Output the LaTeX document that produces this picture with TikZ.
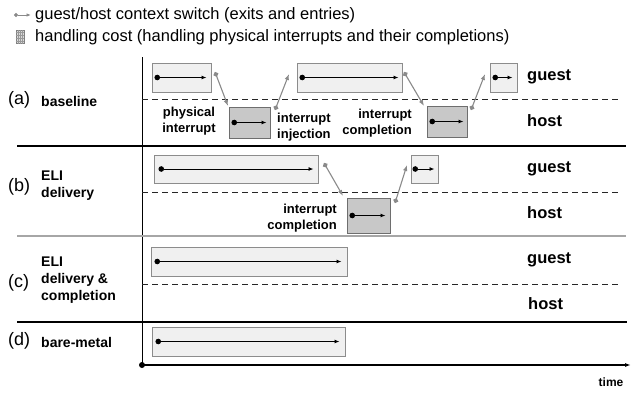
\documentclass[tikz,border=0pt]{standalone}
\usepackage{fontspec}
\setmainfont{Liberation Sans}
\usetikzlibrary{arrows.meta}
\newcommand\legfont{\fontsize{16.5}{19}\selectfont}
\newcommand\lblfont{\fontsize{13}{16}\selectfont\bfseries}
\newcommand\rowfont{\fontsize{14}{17}\selectfont\bfseries}
\newcommand\ghfont{\fontsize{16.5}{19}\selectfont\bfseries}
\newcommand\tagfont{\fontsize{18}{20}\selectfont}
\definecolor{gfill}{HTML}{F0F0F0}
\definecolor{gline}{HTML}{8C8C8C}
\definecolor{hfill}{HTML}{C8C8C8}
\definecolor{hline}{HTML}{6E6E6E}
\definecolor{swcol}{HTML}{8A8A8A}
\tikzset{
  gbox/.style={draw=gline, fill=gfill, line width=1pt, inner sep=0pt},
  hbox/.style={draw=hline, fill=hfill, line width=1pt, inner sep=0pt},
  inarr/.style={black, line width=0.9pt, {Circle[length=5.5pt]}-{Latex[length=5pt,width=4pt]}},
  swarr/.style={swcol, line width=1.1pt, {Circle[length=5pt]}-{Latex[length=6pt,width=4.5pt]}},
  sepline/.style={black, line width=1.1pt},
  gsepline/.style={gray!70, line width=1.6pt},
  dashsep/.style={black!85, line width=0.9pt, dash pattern=on 6pt off 4pt},
  lbl/.style={font=\lblfont, inner sep=0pt},
  ghlbl/.style={font=\ghfont, inner sep=0pt, anchor=west},
  rowlbl/.style={font=\rowfont, inner sep=0pt, anchor=west, align=left},
  taglbl/.style={font=\tagfont, inner sep=0pt, anchor=west},
  leg/.style={font=\legfont, inner sep=0pt, anchor=west}
}
\begin{document}
\begin{tikzpicture}[x=1pt, y=-1pt]
\useasboundingbox (0,0) rectangle (639,392);

% legend
\coordinate (l1s) at (14,15);
\coordinate (l1e) at (31,15);
\draw[swarr, line width=0.9pt, {Circle[length=4pt]}-{Latex[length=4.5pt,width=3.5pt]}] (l1s) -- (l1e);
\node[leg] (leg1) at (35,15) {guest/host context switch (exits and entries)};
\node[draw=gray, fill=gray!30, line width=0.6pt, minimum width=8pt, minimum height=13pt, inner sep=0pt] (legicon) at (20,37) {};
\foreach \yy in {-4.5,-1.5,1.5,4.5} {\draw[gray!80, line width=0.3pt] ([yshift=\yy pt]legicon.west) -- ([yshift=\yy pt]legicon.east);}
\foreach \xx in {-2,0,2} {\draw[gray!80, line width=0.3pt] ([xshift=\xx pt]legicon.north) -- ([xshift=\xx pt]legicon.south);}
\node[leg] (leg2) at (35,37) {handling cost (handling physical interrupts and their completions)};

% axes and separators
\coordinate (vtop) at (142,57);
\coordinate (orig) at (142,365);
\coordinate (tend) at (631,365);
\draw[black, line width=1pt] (vtop) -- (orig);
\draw[black, line width=1.3pt, -{Latex[length=6pt,width=4pt]}] (orig) -- (tend);
\fill[black] (orig) circle (3pt);
\node[font=\fontsize{12}{14}\selectfont\bfseries, inner sep=0pt] (time) at (611,382) {time};

\coordinate (s1a) at (17,146); \coordinate (s1b) at (626,146);
\coordinate (s2a) at (17,236); \coordinate (s2b) at (626,236);
\coordinate (s3a) at (17,322); \coordinate (s3b) at (627,322);
\draw[sepline] (s1a) -- (s1b);
\draw[gsepline] (s2a) -- (s2b);
\draw[sepline] (s3a) -- (s3b);

\coordinate (d1a) at (142,99);  \coordinate (d1b) at (621,99);
\coordinate (d2a) at (142,192); \coordinate (d2b) at (621,192);
\coordinate (d3a) at (142,284); \coordinate (d3b) at (621,284);
\draw[dashsep] (d1a) -- (d1b);
\draw[dashsep] (d2a) -- (d2b);
\draw[dashsep] (d3a) -- (d3b);

% row tags
\node[taglbl] (ta) at (8,100) {(a)};
\node[rowlbl] (ra) at (41,101) {baseline};
\node[taglbl] (tb) at (8,187) {(b)};
\node[rowlbl] (rb) at (41,186) {ELI\\delivery};
\node[taglbl] (tc) at (8,283) {(c)};
\node[rowlbl] (rc) at (41,280) {ELI\\delivery \&\\completion};
\node[taglbl] (td) at (8,341) {(d)};
\node[rowlbl] (rd) at (41,342) {bare-metal};

% guest / host labels
\node[ghlbl] (ga) at (527,77) {guest};
\node[ghlbl] (ha) at (527,121) {host};
\node[ghlbl] (gb) at (527,169) {guest};
\node[ghlbl] (hb) at (527,213) {host};
\node[ghlbl] (gc) at (527,260) {guest};
\node[ghlbl] (hc) at (528,304) {host};

% row (a)
\node[gbox, minimum width=59pt, minimum height=29pt] (g1) at (181.5,77.5) {};
\node[hbox, minimum width=41pt, minimum height=31pt] (h1) at (249.5,122.5) {};
\node[gbox, minimum width=105pt, minimum height=29pt] (g2) at (349.5,77.5) {};
\node[hbox, minimum width=40pt, minimum height=31pt] (h2) at (447,121.5) {};
\node[gbox, minimum width=27pt, minimum height=29pt] (g3) at (503.5,77.5) {};
\draw[inarr] ([xshift=3pt]g1.west) -- ([xshift=-5pt]g1.east);
\draw[inarr] ([xshift=3pt]h1.west) -- ([xshift=-4pt]h1.east);
\draw[inarr] ([xshift=3pt]g2.west) -- ([xshift=-4pt]g2.east);
\draw[inarr] ([xshift=3pt]h2.west) -- ([xshift=-4pt]h2.east);
\draw[inarr] ([xshift=3pt]g3.west) -- ([xshift=-5pt]g3.east);

\coordinate (a1s) at (215,72); \coordinate (a1e) at (228,106);
\coordinate (a2s) at (275,110); \coordinate (a2e) at (289,74);
\coordinate (a3s) at (404,72); \coordinate (a3e) at (424,106);
\coordinate (a4s) at (471,110); \coordinate (a4e) at (485,74);
\draw[swarr] (a1s) -- (a1e);
\draw[swarr] (a2s) -- (a2e);
\draw[swarr] (a3s) -- (a3e);
\draw[swarr] (a4s) -- (a4e);

\node[lbl, align=center] (lpi) at (189,121.5) {physical\\interrupt};
\node[lbl, align=left, anchor=west] (lij) at (277,127.5) {interrupt\\injection};
\node[lbl, align=right, anchor=east] (lic) at (412,123.5) {interrupt\\completion};

% row (b)
\node[gbox, minimum width=164pt, minimum height=28pt] (gb1) at (236,169) {};
\node[hbox, minimum width=43pt, minimum height=35pt] (hb1) at (368.5,215.5) {};
\node[gbox, minimum width=27pt, minimum height=28pt] (gb2) at (424.5,169) {};
\draw[inarr] ([xshift=5pt]gb1.west) -- ([xshift=-5pt]gb1.east);
\draw[inarr] ([xshift=3pt]hb1.west) -- ([xshift=-5pt]hb1.east);
\draw[inarr] ([xshift=2pt]gb2.west) -- ([xshift=-4pt]gb2.east);
\coordinate (b1s) at (324,163); \coordinate (b1e) at (343,196);
\coordinate (b2s) at (395,203); \coordinate (b2e) at (407,165);
\draw[swarr] (b1s) -- (b1e);
\draw[swarr] (b2s) -- (b2e);
\node[lbl, align=right, anchor=east] (lbc) at (337,218) {interrupt\\completion};

% row (c)
\node[gbox, minimum width=196pt, minimum height=29pt] (gc1) at (249,261.5) {};
\draw[inarr] ([xshift=4pt]gc1.west) -- ([xshift=-6pt]gc1.east);

% row (d)
\node[gbox, minimum width=193pt, minimum height=29pt] (gd1) at (248.5,341.5) {};
\draw[inarr] ([xshift=4pt]gd1.west) -- ([xshift=-6pt]gd1.east);
\end{tikzpicture}
\end{document}
